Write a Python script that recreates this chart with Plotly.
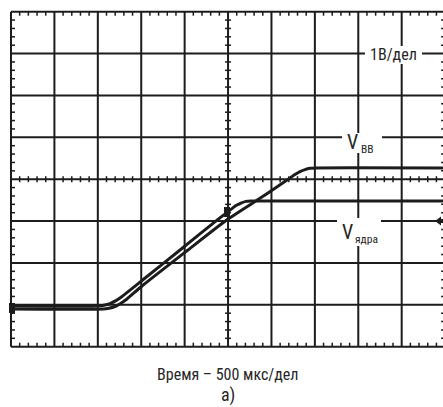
import plotly.graph_objects as go

# ---- data (time in µs, 500 µs/div; voltage in V, 1 V/div, bottom of screen = 0) ----
t_core = [0, 1002, 1071, 1140, 1209, 1279, 1509, 1947, 2384, 2534, 2592, 2649, 2707, 2764, 5000]
v_core = [0.97, 0.97, 0.99, 1.03, 1.10, 1.20, 1.58, 2.31, 3.04, 3.28, 3.37, 3.43, 3.47, 3.48, 3.48]

t_bb = [0, 1060, 1129, 1198, 1267, 1336, 1509, 2039, 2488, 2926, 3214, 3271, 3329, 3386, 3444, 3501, 5000]
v_bb = [0.90, 0.90, 0.92, 0.96, 1.04, 1.14, 1.45, 2.31, 3.03, 3.62, 4.03, 4.11, 4.18, 4.23, 4.26, 4.27, 4.27]

x_divs = [0, 500, 1000, 1500, 2000, 2500, 3000, 3500, 4000, 4500, 5000]
y_divs = [0, 1, 2, 3, 4, 5, 6, 7, 8]

label_scale = "1В/дел"
label_bb_main, label_bb_sub = "V", "ВВ"
label_core_main, label_core_sub = "V", "ядра"
label_x = "Время – 500 мкс/дел"
label_fig = "а)"

# ---- geometry helpers ----
PX_X = 43.41 / 500.0   # px per µs
PX_Y = 41.875          # px per V
INK = "#1c1c1c"
TXT = "#262626"
FONT = "Liberation Sans Narrow, Roboto Condensed, DejaVu Sans Condensed, Arial Narrow, sans-serif"

fig = go.Figure()
for t, v in [(t_bb, v_bb), (t_core, v_core)]:
    fig.add_trace(go.Scatter(x=t, y=v, mode="lines",
                             line=dict(color=INK, width=3, shape="spline", smoothing=0.5),
                             hoverinfo="skip", showlegend=False))

shapes = []
def line(x0, y0, x1, y1, w=2):
    shapes.append(dict(type="line", xref="x", yref="y", x0=x0, y0=y0, x1=x1, y1=y1,
                       line=dict(color=INK, width=w), layer="below"))

for xv in x_divs:
    line(xv, 0, xv, 8)
for yv in y_divs:
    line(0, yv, 5000, yv)

tk = 4 / PX_Y      # 4 px vertical
tkx = 4 / PX_X     # 4 px horizontal
ck = 3 / PX_Y
ckx = 3 / PX_X
for i in range(50):
    if i % 5 == 0:
        continue
    xv = i * 100
    line(xv, 8, xv, 8 - tk, 1.5)
    line(xv, 0, xv, tk, 1.5)
    line(xv, 4 - ck, xv, 4 + ck, 1.5)
for j in range(40):
    if j % 5 == 0:
        continue
    yv = j * 0.2
    line(0, yv, tkx, yv, 1.5)
    line(5000, yv, 5000 - tkx, yv, 1.5)
    line(2500 - ckx, yv, 2500 + ckx, yv, 1.5)

def px2t(px):
    return (px - 11) / PX_X
def px2v(py):
    return (346.7 - py) / PX_Y

def rect(x0, y0, x1, y1, color):
    shapes.append(dict(type="rect", xref="x", yref="y",
                       x0=px2t(x0), x1=px2t(x1), y0=px2v(y0), y1=px2v(y1),
                       line=dict(width=0), fillcolor=color, layer="below"))

# white label backgrounds
rect(365, 46, 422, 64, "white")
rect(342, 133, 382, 153, "white")
rect(337, 218, 381, 246, "white")

# markers
shapes.append(dict(type="rect", xref="x", yref="y", x0=px2t(224), x1=px2t(230),
                   y0=px2v(217), y1=px2v(207), fillcolor=INK, line=dict(width=0)))
shapes.append(dict(type="rect", xref="x", yref="y", x0=px2t(9), x1=px2t(15),
                   y0=px2v(313), y1=px2v(303), fillcolor=INK, line=dict(width=0)))
shapes.append(dict(type="path", xref="x", yref="y",
                   path=f"M {px2t(435)},{px2v(221)} L {px2t(441)},{px2v(216.5)} L {px2t(441)},{px2v(225.5)} Z",
                   fillcolor=INK, line=dict(width=0)))
shapes.append(dict(type="rect", xref="x", yref="y", x0=px2t(440), x1=px2t(446),
                   y0=px2v(223), y1=px2v(219), fillcolor=INK, line=dict(width=0)))

ann = []
def text(s, px, py, size, anchor="center"):
    ann.append(dict(text=s, xref="x", yref="y", x=px2t(px), y=px2v(py),
                    xanchor=anchor, yanchor="middle", showarrow=False,
                    font=dict(family=FONT, size=size, color=TXT)))

def text_below(s, px, py, size):
    ann.append(dict(text=s, xref="x", yref="paper", x=px2t(px), y=(349 - py) / 340.0,
                    xanchor="center", yanchor="middle", showarrow=False,
                    font=dict(family=FONT, size=size, color=TXT)))

text(label_scale, 393, 54, 16)
text(label_bb_main, 352, 142, 20)
text(label_bb_sub, 358.5, 149, 11.5, "left")
text(label_core_main, 347.5, 232, 20)
text(label_core_sub, 353, 238.5, 11.5, "left")
text_below(label_x, 228, 374, 16)
text_below(label_fig, 228, 394.5, 18)

fig.update_layout(
    width=443, height=407,
    margin=dict(l=9, r=0, t=9, b=58, autoexpand=False),
    paper_bgcolor="white", plot_bgcolor="white",
    xaxis=dict(range=[-2 / PX_X, -2 / PX_X + 434 / PX_X], visible=False, fixedrange=True),
    yaxis=dict(range=[-2.3 / PX_Y, 8 + 2.7 / PX_Y], visible=False, fixedrange=True),
    shapes=shapes, annotations=ann,
)

fig.write_html("out.html", config={"displayModeBar": False},
               post_script="document.body.style.margin='0';document.body.style.overflow='hidden';")
